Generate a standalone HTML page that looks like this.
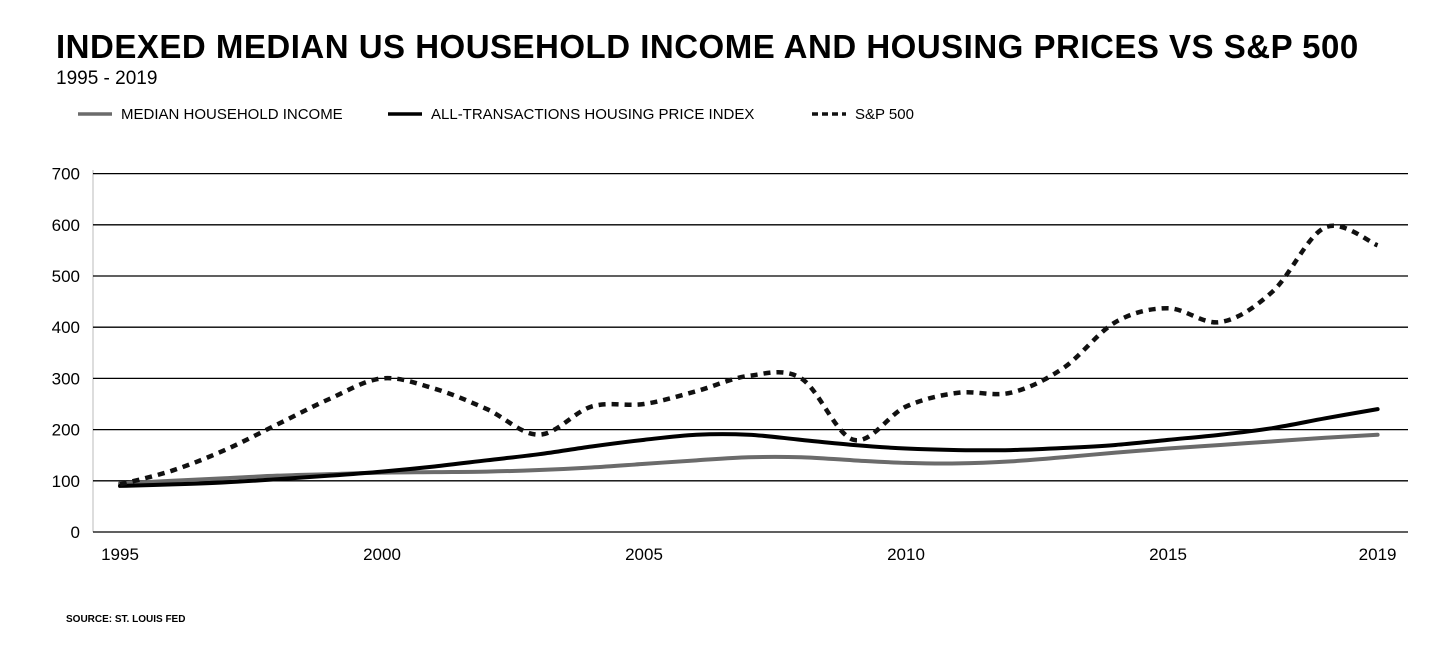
<!DOCTYPE html>
<html><head><meta charset="utf-8"><style>
body{margin:0;width:1456px;height:661px;background:#fff;font-family:"Liberation Sans",sans-serif;overflow:hidden;position:relative}
.t{position:absolute;color:#000}
</style></head><body>
<div class="t" style="left:56px;top:28px;font-size:33px;font-weight:bold;letter-spacing:0.5px">INDEXED MEDIAN US HOUSEHOLD INCOME AND HOUSING PRICES VS S&amp;P 500</div>
<div class="t" style="left:56px;top:68px;font-size:19px">1995 - 2019</div>
<div class="t" style="left:66px;top:614px;font-size:10px;font-weight:bold">SOURCE: ST. LOUIS FED</div>
<svg id="c" width="1456" height="661" style="position:absolute;left:0;top:0"></svg>
<script>
const years=[1995,1996,1997,1998,1999,2000,2001,2002,2003,2004,2005,2006,2007,2008,2009,2010,2011,2012,2013,2014,2015,2016,2017,2018,2019];
const income=[95,100,105,110,113,116,117,118,121,126,133,140,146,146,140,135,134,138,146,155,163,170,177,184,190];
const housing=[90,93,97,103,110,118,128,140,152,167,180,190,190,180,170,163,160,160,164,170,180,190,203,222,240];
const sp500=[93,120,160,210,260,300,280,240,190,245,250,275,305,300,180,245,272,272,320,410,437,410,470,595,560];
const yTicks=[0,100,200,300,400,500,600,700];
const xTicks=[1995,2000,2005,2010,2015,2019];
const ns="http://www.w3.org/2000/svg",svg=document.getElementById('c');
const X=y=>120+(y-1995)*52.4, Y=v=>532-v*0.512;
function mk(t,a){const e=document.createElementNS(ns,t);for(const k in a)e.setAttribute(k,a[k]);svg.appendChild(e);return e;}
mk('line',{x1:93,y1:170,x2:93,y2:532,stroke:'#bbb','stroke-width':1});
yTicks.forEach(v=>{
 const l=mk('line',{x1:93,x2:1408,y1:Y(v),y2:Y(v),stroke:'#000','stroke-width':1.3});
 
 
 const t=mk('text',{x:80,y:Y(v)+6,'text-anchor':'end','font-size':17,'font-family':'Liberation Sans, sans-serif'});
 t.textContent=v;
 
 
});
xTicks.forEach(v=>{
 const t=mk('text',{x:X(v),y:560,'text-anchor':'middle','font-size':17,'font-family':'Liberation Sans, sans-serif'});
 t.textContent=v;
 
 
});
function path(vals){
 const p=vals.map((v,i)=>[X(years[i]),Y(v)]);
 let d='M'+p[0][0]+','+p[0][1];
 for(let i=0;i<p.length-1;i++){
  const p0=p[i-1]||p[i],p1=p[i],p2=p[i+1],p3=p[i+2]||p2;
  const c1=[p1[0]+(p2[0]-p0[0])/6,p1[1]+(p2[1]-p0[1])/6],c2=[p2[0]-(p3[0]-p1[0])/6,p2[1]-(p3[1]-p1[1])/6];
  d+=' C'+c1+' '+c2+' '+p2;
 }
 return d;
}
const s1=mk('path',{d:path(income),fill:'none',stroke:'#6b6b6b','stroke-width':4,'stroke-linecap':'round'});


const s2=mk('path',{d:path(housing),fill:'none',stroke:'#000','stroke-width':4,'stroke-linecap':'round'});


const s3=mk('path',{d:path(sp500),fill:'none',stroke:'#111','stroke-width':4.5,'stroke-dasharray':'7 6'});


const leg=[['MEDIAN HOUSEHOLD INCOME','#6b6b6b',null,78],['ALL-TRANSACTIONS HOUSING PRICE INDEX','#000',null,388],['S&P 500','#111','6 4',812]];
leg.forEach(([n,c,da,x])=>{
 const a={x1:x,x2:x+34,y1:114,y2:114,stroke:c,'stroke-width':3.5};if(da)a['stroke-dasharray']=da;
 const l=mk('line',a);
 
 
 const t=mk('text',{x:x+43,y:119,'font-size':15,'font-family':'Liberation Sans, sans-serif'});
 t.textContent=n;
 
 
});
</script>
</body></html>
